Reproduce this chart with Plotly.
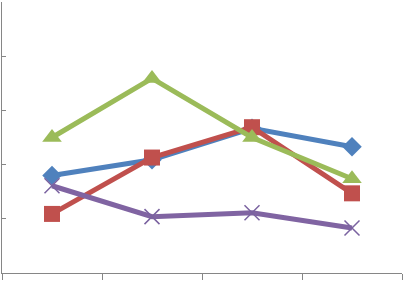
import plotly.graph_objects as go

categories = [0.5, 1.5, 2.5, 3.5]
series1 = [1.80, 2.09, 2.67, 2.33]
series2 = [1.09, 2.13, 2.69, 1.47]
series3 = [2.50, 3.59, 2.50, 1.74]
series4 = [1.61, 1.04, 1.11, 0.83]

fig = go.Figure()
fig.add_trace(go.Scatter(x=categories, y=series1, mode="lines+markers",
    line=dict(color="#4F81BD", width=5),
    marker=dict(symbol="diamond", size=15, color="#4F81BD")))
fig.add_trace(go.Scatter(x=categories, y=series2, mode="lines+markers",
    line=dict(color="#C0504D", width=5),
    marker=dict(symbol="square", size=16, color="#C0504D")))
fig.add_trace(go.Scatter(x=categories, y=series3, mode="lines+markers",
    line=dict(color="#9BBB59", width=5),
    marker=dict(symbol="triangle-up", size=17, color="#9BBB59")))
fig.add_trace(go.Scatter(x=categories, y=series4, mode="lines+markers",
    line=dict(color="#8064A2", width=5),
    marker=dict(symbol="x-thin", size=15, color="#8064A2",
                line=dict(color="#7A62A0", width=1.5))))

fig.update_layout(
    width=405, height=281,
    margin=dict(l=2, r=3, t=2, b=8, autoexpand=False),
    paper_bgcolor="white", plot_bgcolor="white",
    showlegend=False,
    xaxis=dict(range=[0, 4], tickvals=[0, 1, 2, 3, 4], showticklabels=False,
               showgrid=False, zeroline=False, showline=True, linecolor="#868686",
               linewidth=1, ticks="outside", ticklen=6, tickcolor="#868686",
               automargin=False),
    yaxis=dict(range=[0, 5], tickvals=[0, 1, 2, 3, 4, 5], showticklabels=False,
               showgrid=False, zeroline=False, showline=True, linecolor="#868686",
               linewidth=1, ticks="inside", ticklen=4, tickcolor="#868686",
               automargin=False),
)
fig.write_html("out.html", config={"displayModeBar": False},
               post_script="document.body.style.margin='0';document.body.style.overflow='hidden';")
